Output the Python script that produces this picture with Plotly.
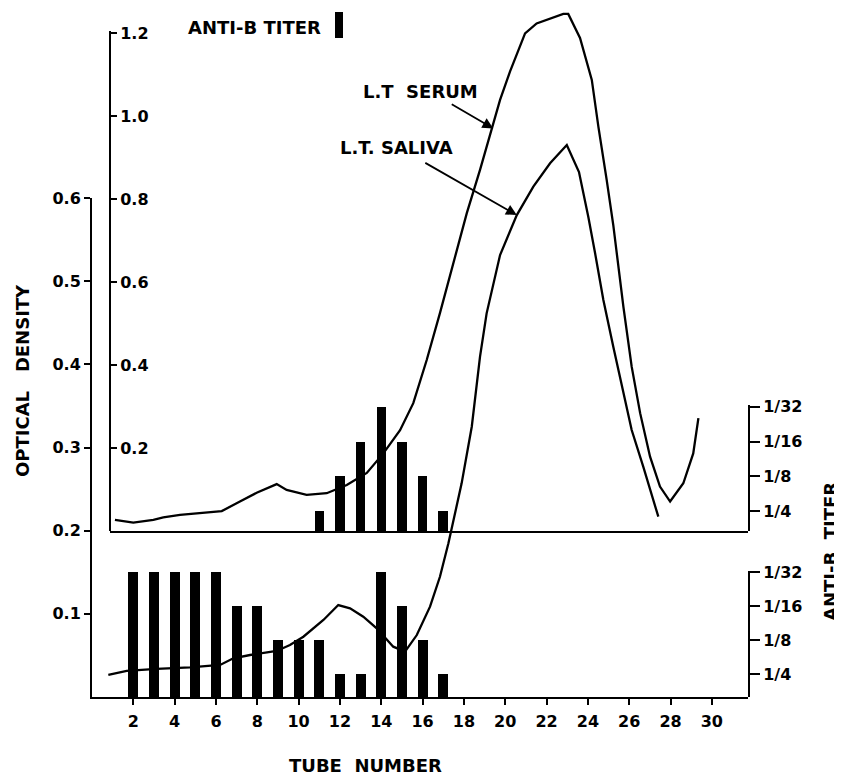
import plotly.graph_objects as go

# ---------------- data ----------------
serum_tube = [1.11, 2.0, 2.97, 3.45, 4.26, 5.23, 6.28, 7.16, 7.97, 8.94, 9.42, 10.39,
              11.36, 12.33, 13.30, 14.10, 14.91, 15.55, 16.20, 16.84, 17.65, 18.14,
              18.78, 19.35, 19.75, 20.23, 20.96, 21.52, 22.81, 23.05, 23.62, 24.19,
              24.51, 24.91, 25.23, 25.72, 26.12, 26.53, 27.01, 27.49, 27.98, 28.62,
              29.10, 29.35]
serum_od = [0.027, 0.020, 0.027, 0.033, 0.039, 0.043, 0.048, 0.071, 0.092, 0.113, 0.099,
            0.087, 0.091, 0.111, 0.140, 0.187, 0.243, 0.308, 0.412, 0.525, 0.677, 0.766,
            0.870, 0.970, 1.039, 1.107, 1.199, 1.223, 1.246, 1.246, 1.188, 1.087, 0.974,
            0.846, 0.737, 0.540, 0.396, 0.284, 0.179, 0.107, 0.071, 0.115, 0.187, 0.272]

saliva_tube = [0.79, 1.68, 3.13, 4.74, 6.20, 6.84, 7.65, 8.94, 9.58, 10.23, 11.20, 11.92,
               12.49, 13.13, 13.78, 14.58, 15.15, 15.72, 16.36, 16.84, 17.25, 17.89,
               18.38, 18.78, 19.10, 19.75, 20.56, 21.36, 22.17, 22.98, 23.57, 24.02,
               24.35, 24.75, 25.23, 25.72, 26.12, 26.68, 27.41]
saliva_od = [0.0265, 0.0313, 0.0337, 0.0357, 0.0385, 0.0465, 0.0505, 0.0553, 0.0625,
             0.0725, 0.0926, 0.1106, 0.1066, 0.0965, 0.0826, 0.0605, 0.0545, 0.0745,
             0.1086, 0.1446, 0.1848, 0.2569, 0.3250, 0.4092, 0.4613, 0.5314, 0.5795,
             0.6136, 0.6417, 0.6637, 0.6312, 0.5775, 0.5335, 0.4773, 0.4212, 0.3652,
             0.3210, 0.2769, 0.2168]

titer_levels = ["1/4", "1/8", "1/16", "1/32"]

serum_titer_tube = [11, 12, 13, 14, 15, 16, 17]
serum_titer = ["1/4", "1/8", "1/16", "1/32", "1/16", "1/8", "1/4"]

saliva_titer_tube = [2, 3, 4, 5, 6, 7, 8, 9, 10, 11, 12, 13, 14, 15, 16, 17]
saliva_titer = ["1/32", "1/32", "1/32", "1/32", "1/32", "1/16", "1/16", "1/8", "1/8",
                "1/8", "1/4", "1/4", "1/32", "1/16", "1/8", "1/4"]

tube_ticks = list(range(2, 31, 2))
od_outer_ticks = [0.1, 0.2, 0.3, 0.4, 0.5, 0.6]
od_inner_ticks = [0.2, 0.4, 0.6, 0.8, 1.0, 1.2]

# ---------------- layout geometry (reference pixels) ----------------
W, H = 842, 776
OFF = 8                      # page body margin
L, R, T, B = 92, 748, 8, 697
PW, PH = R - L, B - T
X_MAX = 31.75


def fy(py):
    return (B - py) / PH


def fx(px):
    return (px - L) / PW


x2_left = (110 - L) / PW * X_MAX
FONT = "DejaVu Sans"

fig = go.Figure()

fig.add_trace(go.Scatter(x=saliva_tube, y=saliva_od, xaxis="x", yaxis="y2", mode="lines",
                         line=dict(color="black", width=2.3), showlegend=False))
fig.add_trace(go.Scatter(x=serum_tube, y=serum_od, xaxis="x2", yaxis="y4", mode="lines",
                         line=dict(color="black", width=2.3), showlegend=False))
fig.add_trace(go.Bar(x=serum_titer_tube, y=[titer_levels.index(t) + 1 for t in serum_titer],
                     xaxis="x2", yaxis="y5", width=0.46, marker=dict(color="black", line_width=0),
                     showlegend=False))
fig.add_trace(go.Bar(x=saliva_titer_tube, y=[titer_levels.index(t) + 1 for t in saliva_titer],
                     xaxis="x", yaxis="y6", width=0.48, marker=dict(color="black", line_width=0),
                     showlegend=False))
# empty traces so the display-only axes exist as subplots
fig.add_trace(go.Scatter(x=[], y=[], xaxis="x", yaxis="y", showlegend=False))
fig.add_trace(go.Scatter(x=[], y=[], xaxis="x2", yaxis="y3", showlegend=False))

tickfont = dict(family=FONT, size=16, color="black", weight="bold")
common = dict(showgrid=False, zeroline=False, showline=True, linecolor="black", linewidth=2,
              tickcolor="black", tickwidth=2, tickfont=tickfont, automargin=False, fixedrange=True)

fig.update_layout(
    width=W, height=H,
    margin=dict(l=L - OFF, r=W - R + OFF, t=T - OFF, b=H - B + OFF, pad=0),
    paper_bgcolor="white", plot_bgcolor="rgba(0,0,0,0)",
    showlegend=False, bargap=0,
    xaxis=dict(domain=[0, 1], range=[0, X_MAX], anchor="y", tickvals=tube_ticks,
               ticks="outside", ticklen=6, ticklabelstandoff=3, **common),
    xaxis2=dict(domain=[fx(110), 1], range=[x2_left, X_MAX], anchor="y3",
                showticklabels=False, ticks="", **common),
    yaxis=dict(domain=[0, fy(198)], range=[0, 0.6], anchor="x", tickvals=od_outer_ticks,
               ticktext=["0.1", "0.2", "0.3", "0.4", "0.5", "0.6"],
               ticks="outside", ticklen=6, **common),
    yaxis2=dict(domain=[0, 1], range=[0, 0.6 / fy(198)], anchor="x", visible=False),
    yaxis3=dict(domain=[fy(531), fy(31)], range=[0, 500 / 415], anchor="free",
                position=fx(110), side="right",
                tickvals=od_inner_ticks, ticktext=["0.2", "0.4", "0.6", "0.8", "1.0", "1.2"],
                ticks="outside", ticklen=6, **common),
    yaxis4=dict(domain=[fy(531), 1], range=[0, 523 / 415], anchor="x2", visible=False),
    yaxis5=dict(domain=[fy(531), fy(405)], range=[0.43, 4.05], anchor="x2", side="right",
                tickvals=[1, 2, 3, 4], ticktext=titer_levels, ticks="outside", ticklen=10, **common),
    yaxis6=dict(domain=[0, fy(571)], range=[0.32, 4.03], anchor="x", side="right",
                tickvals=[1, 2, 3, 4], ticktext=titer_levels, ticks="outside", ticklen=10, **common),
)

lab = dict(family=FONT, size=18, color="black", weight="bold")
annotations = [
    # arrows (tips on the curves)
    dict(x=19.42, y=0.970, xref="x2", yref="y4", text="", showarrow=True, ax=-43, ay=-25,
         arrowhead=2, arrowsize=1.2, arrowwidth=1.8, arrowcolor="black", standoff=0),
    dict(x=20.56, y=0.5795, xref="x", yref="y2", text="", showarrow=True, ax=-93, ay=-53,
         arrowhead=2, arrowsize=1.2, arrowwidth=1.8, arrowcolor="black", standoff=0),
    dict(x=fx(420), y=fy(91), xref="paper", yref="paper", text="L.T\u00a0 SERUM",
         showarrow=False, font=lab, xanchor="center", yanchor="middle"),
    dict(x=fx(396), y=fy(148), xref="paper", yref="paper", text="L.T. SALIVA",
         showarrow=False, font=lab, xanchor="center", yanchor="middle"),
    dict(x=fx(254), y=fy(27), xref="paper", yref="paper", text="ANTI-B TITER",
         showarrow=False, font=lab, xanchor="center", yanchor="middle"),
    dict(x=fx(22), y=fy(381), xref="paper", yref="paper", text="OPTICAL\u00a0\u00a0 DENSITY",
         showarrow=False, font=lab, textangle=-90, xanchor="center", yanchor="middle"),
    dict(x=fx(830), y=fy(552), xref="paper", yref="paper", text="ANTI-B\u00a0 TITER",
         showarrow=False, font=lab, textangle=-90, xanchor="center", yanchor="middle"),
    dict(x=fx(365), y=fy(765), xref="paper", yref="paper", text="TUBE\u00a0 NUMBER",
         showarrow=False, font=lab, xanchor="center", yanchor="middle"),
]
fig.update_layout(annotations=annotations)

# legend glyph next to "ANTI-B TITER"
fig.add_shape(type="rect", xref="paper", yref="paper", x0=fx(335), x1=fx(343),
              y0=fy(38), y1=fy(12), fillcolor="black", line_width=0)

fig.write_html("out.html")
